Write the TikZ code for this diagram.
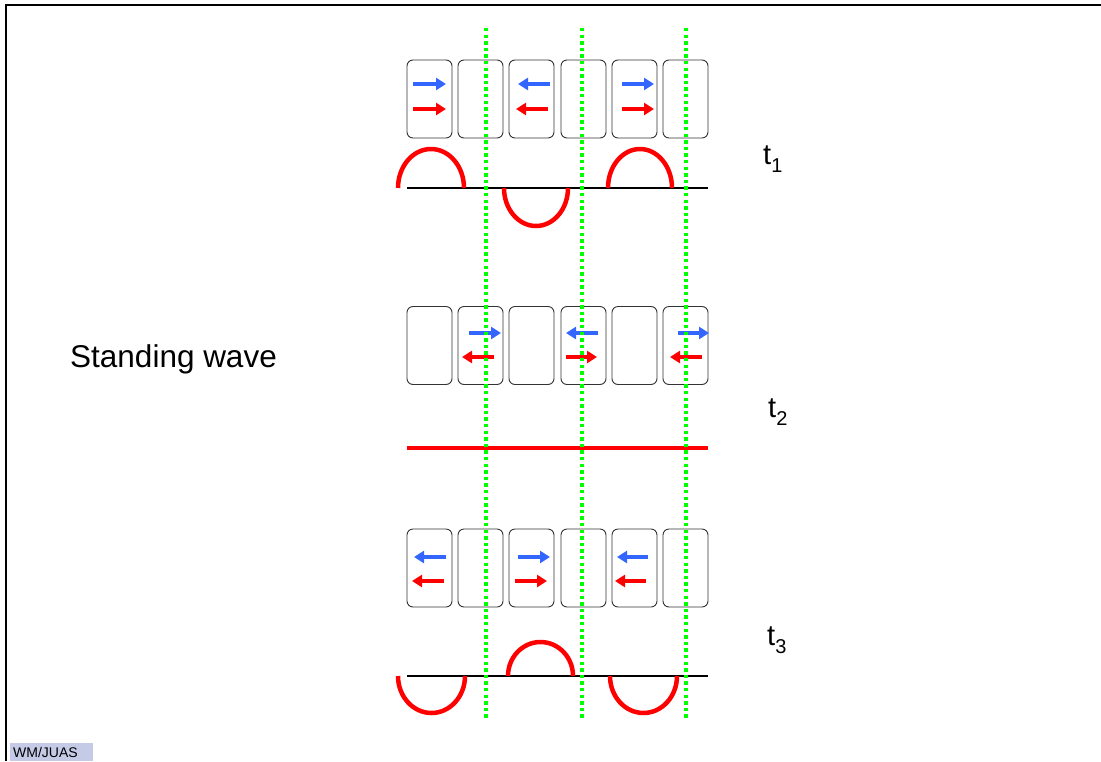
\documentclass[tikz,border=0pt]{standalone}
\usepackage{fontspec}
\setmainfont{Liberation Sans}
\usetikzlibrary{arrows.meta}
\definecolor{wblue}{RGB}{51,102,255}
\definecolor{wred}{RGB}{255,0,0}
\definecolor{wgreen}{RGB}{0,255,0}
\definecolor{lav}{RGB}{197,202,230}
\tikzset{
  cell/.style={draw=black!80, line width=0.9pt, rounded corners=6pt, minimum width=45pt, minimum height=78pt, inner sep=0pt},
  barr/.style={draw=wblue, line width=4pt, -{Triangle[length=10pt,width=12pt]}},
  rarr/.style={draw=wred, line width=4pt, -{Triangle[length=10pt,width=12pt]}},
  wave/.style={draw=wred, line width=4.5pt},
  base/.style={draw=black, line width=1.5pt},
  node1/.style={draw=wgreen, line width=3.4pt, dash pattern=on 3.3pt off 3.3pt},
  tlab/.style={anchor=base west, inner sep=0pt, font=\fontsize{29}{29}\selectfont},
}
\newcommand{\tsub}[1]{t\raisebox{-8pt}{\fontsize{20}{20}\selectfont #1}}
\begin{document}
\begin{tikzpicture}[x=1pt,y=-1pt]
\useasboundingbox (0,0) rectangle (1101,761);
% frame
\draw[line width=2pt] (6,761) -- (6,5) -- (1101,5);
% footer
\node[fill=lav, minimum width=83pt, minimum height=18pt, inner sep=0pt] (foot) at (51.5,752) {};
\node[anchor=west, inner sep=0pt, font=\fontsize{14}{14}\selectfont] (foott) at (13,752) {WM/JUAS};
% label
\node[anchor=base west, inner sep=0pt, font=\fontsize{31.5}{31.5}\selectfont] (sw) at (70,367) {Standing wave};
\node[tlab] (t1) at (763,164) {\tsub{1}};
\node[tlab] (t2) at (768,417) {\tsub{2}};
\node[tlab] (t3) at (767,645) {\tsub{3}};
% boxes
\foreach \r/\y in {1/99,2/345.5,3/568}{
  \foreach \c/\x in {1/429.5,2/480.5,3/531.5,4/583.5,5/634.5,6/685.5}{
    \node[cell] (b\r\c) at (\x,\y) {};
  }
}
% row 1 arrows
\draw[barr] (413,84) -- (446,84);
\draw[rarr] (413,109) -- (446,109);
\draw[barr] (550,84) -- (518,84);
\draw[rarr] (548,109) -- (516,109);
\draw[barr] (622,84) -- (654,84);
\draw[rarr] (622,109) -- (654,109);
% row 2 arrows
\draw[barr] (469,333) -- (501,333);
\draw[rarr] (494,357) -- (462,357);
\draw[barr] (598,333) -- (566,333);
\draw[rarr] (566,357) -- (597,357);
\draw[barr] (678,333) -- (709,333);
\draw[rarr] (702,357) -- (670,357);
% row 3 arrows
\draw[barr] (446,557) -- (414,557);
\draw[rarr] (444,581) -- (412,581);
\draw[barr] (518,557) -- (550,557);
\draw[rarr] (515,581) -- (547,581);
\draw[barr] (648,557) -- (617,557);
\draw[rarr] (646,581) -- (615,581);
% waves row 1
\draw[base] (407,188) coordinate (w1a) -- (708,188) coordinate (w1b);
\draw[wave] (398,188) arc[start angle=180,end angle=0,x radius=33pt,y radius=39pt];
\draw[wave] (504,188) arc[start angle=180,end angle=360,x radius=32pt,y radius=38pt];
\draw[wave] (608,188) arc[start angle=180,end angle=0,x radius=32pt,y radius=39pt];
% row 2
\draw[wave] (407,448) coordinate (w2a) -- (708,448) coordinate (w2b);
% row 3
\draw[base] (407,676) coordinate (w3a) -- (708,676) coordinate (w3b);
\draw[wave] (398,676) arc[start angle=180,end angle=360,x radius=33.5pt,y radius=37pt];
\draw[wave] (508,676) arc[start angle=180,end angle=0,x radius=32.5pt,y radius=34pt];
\draw[wave] (610,676) arc[start angle=180,end angle=360,x radius=33.5pt,y radius=37pt];
% green nodal lines
\foreach \x/\n in {486/a,582/b,686/c}{
  \coordinate (g\n top) at (\x,28);
  \coordinate (g\n bot) at (\x,718);
  \draw[node1] (g\n top) -- (g\n bot);
}
\end{tikzpicture}
\end{document}
